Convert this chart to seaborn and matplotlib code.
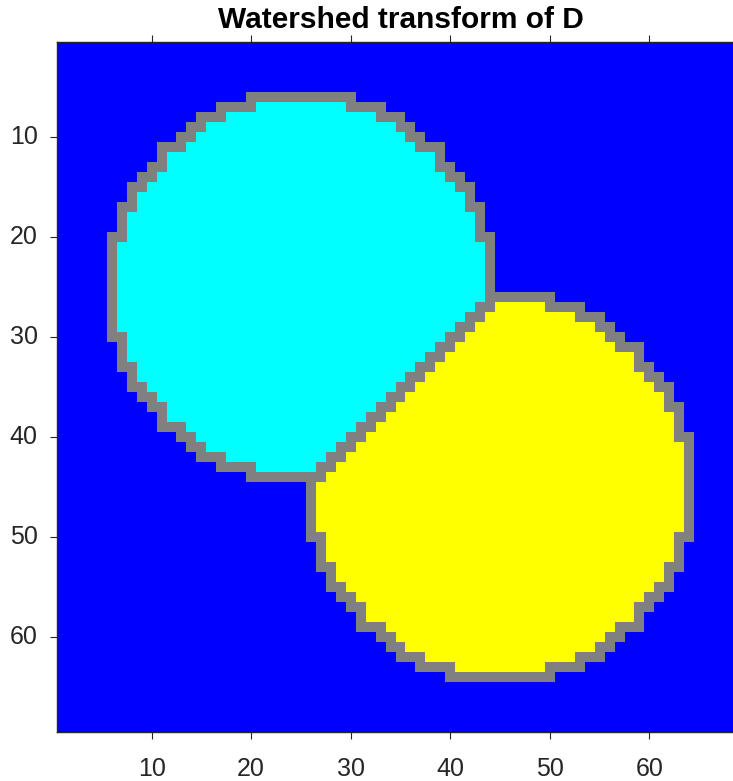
import numpy as np
import matplotlib
matplotlib.use("Agg")
import matplotlib.pyplot as plt
from matplotlib.colors import ListedColormap
import seaborn as sns

# ---------- Data ----------
GRID_SIZE = 69                          # image is 69 x 69 pixels
BASIN_CENTERS = [(25, 25), (45, 45)]    # (row, col), 1-based
# half width (in pixels) of each disc for row offsets 0..19 from its centre
HALF_WIDTHS = [19, 19, 19, 19, 19, 19, 18, 18, 18, 17,
               17, 16, 15, 14, 14, 12, 11, 10, 8, 5]
RIDGE_SUMS = [70, 71]                   # row + col of the ridge line between basins
LABEL_COLORS = ["#808080", "#0000ff", "#00ffff", "#ffff00"]  # ridge, bg, basin 1, basin 2
TICKS = [10, 20, 30, 40, 50, 60]

# ---------- Build label image ----------
rows = np.arange(1, GRID_SIZE + 1)[:, None]
cols = np.arange(1, GRID_SIZE + 1)[None, :]
inside = np.zeros((GRID_SIZE, GRID_SIZE), dtype=bool)
hw = np.array(HALF_WIDTHS)
for cr, cc in BASIN_CENTERS:
    dr = np.abs(rows - cr)
    ok = dr < len(hw)
    lim = np.where(ok, hw[np.clip(dr, 0, len(hw) - 1)], -1)
    inside |= ok & (np.abs(cols - cc) <= lim)

labels = np.ones((GRID_SIZE, GRID_SIZE), dtype=int)
s = rows + cols
labels[inside & (s < min(RIDGE_SUMS))] = 2
labels[inside & (s > max(RIDGE_SUMS))] = 3
labels[inside & np.isin(s, RIDGE_SUMS)] = 0

# outer ridge: pixels of the discs that touch the background (8-neighbourhood)
padded = np.pad(inside, 1, constant_values=False)
edge = np.zeros_like(inside)
for di in (-1, 0, 1):
    for dj in (-1, 0, 1):
        edge |= ~padded[1 + di:1 + di + GRID_SIZE, 1 + dj:1 + dj + GRID_SIZE]
labels[inside & edge] = 0

# ---------- Plot ----------
plt.rcParams["font.family"] = ["Liberation Sans", "DejaVu Sans"]
fig = plt.figure(figsize=(7.33, 7.81), dpi=100)
ax = fig.add_axes([57 / 733, 1 - 732 / 781, 687 / 733, 690 / 781])

sns.heatmap(labels, cmap=ListedColormap(LABEL_COLORS), vmin=-0.5, vmax=3.5,
            cbar=False, ax=ax, linewidths=0, rasterized=True)

ax.set_xticks([t - 0.5 for t in TICKS])
ax.set_xticklabels([str(t) for t in TICKS], rotation=0)
ax.set_yticks([t - 0.5 for t in TICKS])
ax.set_yticklabels([str(t) for t in TICKS], rotation=0)
ax.tick_params(axis="x", direction="out", length=5, width=0.8, top=True, bottom=True,
               labeltop=False, labelbottom=True, pad=13, labelsize=18,
               colors=(0.15, 0.15, 0.15))
ax.tick_params(axis="y", direction="out", length=5, width=0.8, left=True, right=True,
               labelright=False, pad=9, labelsize=18, colors=(0.15, 0.15, 0.15))
for sp in ax.spines.values():
    sp.set_visible(True)
    sp.set_color((0.15, 0.15, 0.15))
    sp.set_linewidth(1.0)

ax.set_title("Watershed transform of D", fontsize=21.5, fontweight="bold", pad=10)

fig.savefig("out.png", dpi=100)
